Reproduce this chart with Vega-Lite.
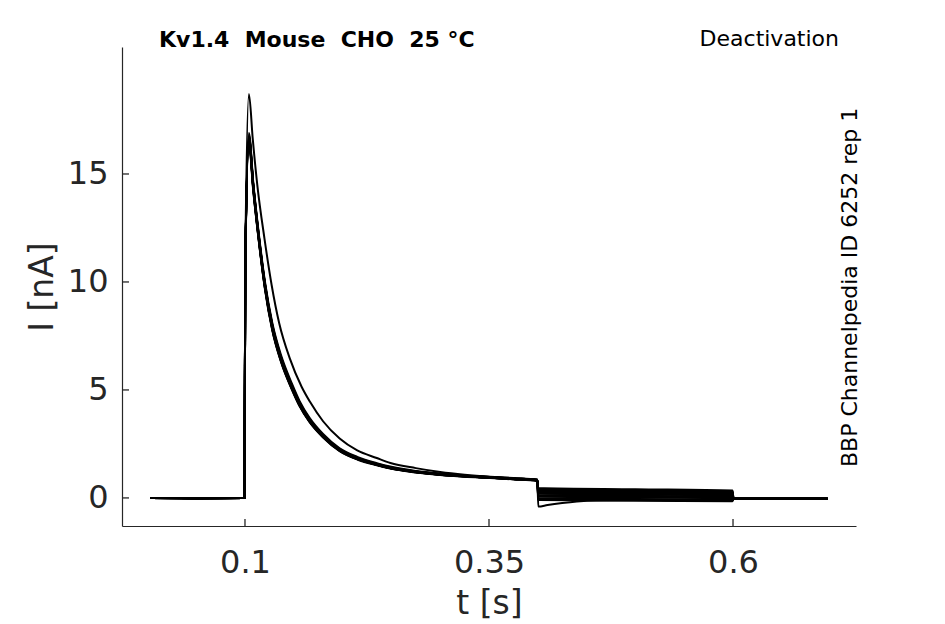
{
  "$schema": "https://vega.github.io/schema/vega-lite/v6.json",
  "width": 734,
  "height": 479,
  "autosize": {"type": "none"},
  "padding": {"left": 122, "top": 47, "right": 89, "bottom": 98},
  "background": "white",
  "config": {
    "view": {"stroke": null},
    "font": "DejaVu Sans",
    "axis": {
      "grid": false,
      "ticks": false,
      "tickSize": 0,
      "domainColor": "#262626",
      "domainWidth": 1.2,
      "labelColor": "#262626",
      "labelFont": "DejaVu Sans",
      "labelFontSize": 32,
      "titleColor": "#262626",
      "titleFont": "DejaVu Sans",
      "titleFontSize": 33,
      "titleFontWeight": "normal"
    }
  },
  "layer": [
    {
      "data": {
        "values": [
          {"s": "s1", "t": 0.003, "i": 0}, {"s": "s1", "t": 0.05, "i": -0.02}, {"s": "s1", "t": 0.0995, "i": 0},
          {"s": "s1", "t": 0.1003, "i": 11.0}, {"s": "s1", "t": 0.104, "i": 18.7}, {"s": "s1", "t": 0.108, "i": 16.6},
          {"s": "s1", "t": 0.1126, "i": 14.5}, {"s": "s1", "t": 0.12, "i": 12.0}, {"s": "s1", "t": 0.1273, "i": 9.86},
          {"s": "s1", "t": 0.135, "i": 8.1}, {"s": "s1", "t": 0.146, "i": 6.45}, {"s": "s1", "t": 0.158, "i": 5.15},
          {"s": "s1", "t": 0.1666, "i": 4.45}, {"s": "s1", "t": 0.18, "i": 3.55}, {"s": "s1", "t": 0.197, "i": 2.75},
          {"s": "s1", "t": 0.215, "i": 2.2}, {"s": "s1", "t": 0.235, "i": 1.85}, {"s": "s1", "t": 0.249, "i": 1.62},
          {"s": "s1", "t": 0.275, "i": 1.38}, {"s": "s1", "t": 0.3, "i": 1.2}, {"s": "s1", "t": 0.325, "i": 1.07},
          {"s": "s1", "t": 0.351, "i": 0.97}, {"s": "s1", "t": 0.375, "i": 0.9}, {"s": "s1", "t": 0.3995, "i": 0.84},
          {"s": "s1", "t": 0.4005, "i": 0.2}, {"s": "s1", "t": 0.5, "i": 0.155}, {"s": "s1", "t": 0.5995, "i": 0.11},
          {"s": "s1", "t": 0.6005, "i": -0.03}, {"s": "s1", "t": 0.697, "i": -0.04},

          {"s": "s2", "t": 0.003, "i": 0}, {"s": "s2", "t": 0.05, "i": -0.01}, {"s": "s2", "t": 0.0995, "i": 0},
          {"s": "s2", "t": 0.1003, "i": 10.9}, {"s": "s2", "t": 0.104, "i": 16.9}, {"s": "s2", "t": 0.1085, "i": 14.6},
          {"s": "s2", "t": 0.114, "i": 12.3}, {"s": "s2", "t": 0.1205, "i": 10.0}, {"s": "s2", "t": 0.128, "i": 8.1},
          {"s": "s2", "t": 0.137, "i": 6.6}, {"s": "s2", "t": 0.148, "i": 5.3}, {"s": "s2", "t": 0.156, "i": 4.48},
          {"s": "s2", "t": 0.166, "i": 3.72}, {"s": "s2", "t": 0.18, "i": 2.96}, {"s": "s2", "t": 0.197, "i": 2.3},
          {"s": "s2", "t": 0.215, "i": 1.9}, {"s": "s2", "t": 0.235, "i": 1.61}, {"s": "s2", "t": 0.25, "i": 1.44},
          {"s": "s2", "t": 0.275, "i": 1.25}, {"s": "s2", "t": 0.3, "i": 1.13}, {"s": "s2", "t": 0.325, "i": 1.04},
          {"s": "s2", "t": 0.351, "i": 0.98}, {"s": "s2", "t": 0.375, "i": 0.92}, {"s": "s2", "t": 0.3995, "i": 0.85},
          {"s": "s2", "t": 0.4005, "i": -0.4}, {"s": "s2", "t": 0.41, "i": -0.33}, {"s": "s2", "t": 0.425, "i": -0.24},
          {"s": "s2", "t": 0.44, "i": -0.17}, {"s": "s2", "t": 0.46, "i": -0.12}, {"s": "s2", "t": 0.5, "i": -0.1},
          {"s": "s2", "t": 0.5995, "i": -0.13}, {"s": "s2", "t": 0.6005, "i": -0.04}, {"s": "s2", "t": 0.697, "i": -0.04},

          {"s": "s3", "t": 0.003, "i": 0}, {"s": "s3", "t": 0.05, "i": -0.02}, {"s": "s3", "t": 0.0995, "i": 0},
          {"s": "s3", "t": 0.1003, "i": 10.8}, {"s": "s3", "t": 0.104, "i": 16.8}, {"s": "s3", "t": 0.1085, "i": 14.5},
          {"s": "s3", "t": 0.114, "i": 12.2}, {"s": "s3", "t": 0.1205, "i": 9.9}, {"s": "s3", "t": 0.128, "i": 8.0},
          {"s": "s3", "t": 0.137, "i": 6.5}, {"s": "s3", "t": 0.148, "i": 5.2}, {"s": "s3", "t": 0.156, "i": 4.4},
          {"s": "s3", "t": 0.166, "i": 3.65}, {"s": "s3", "t": 0.18, "i": 2.9}, {"s": "s3", "t": 0.197, "i": 2.25},
          {"s": "s3", "t": 0.215, "i": 1.85}, {"s": "s3", "t": 0.235, "i": 1.57}, {"s": "s3", "t": 0.25, "i": 1.4},
          {"s": "s3", "t": 0.275, "i": 1.22}, {"s": "s3", "t": 0.3, "i": 1.1}, {"s": "s3", "t": 0.325, "i": 1.02},
          {"s": "s3", "t": 0.351, "i": 0.96}, {"s": "s3", "t": 0.375, "i": 0.9}, {"s": "s3", "t": 0.3995, "i": 0.83},
          {"s": "s3", "t": 0.4005, "i": 0.46}, {"s": "s3", "t": 0.5, "i": 0.4}, {"s": "s3", "t": 0.5995, "i": 0.34},
          {"s": "s3", "t": 0.6005, "i": -0.02}, {"s": "s3", "t": 0.697, "i": -0.03},

          {"s": "s4", "t": 0.003, "i": 0}, {"s": "s4", "t": 0.05, "i": -0.02}, {"s": "s4", "t": 0.0995, "i": 0},
          {"s": "s4", "t": 0.1003, "i": 10.7}, {"s": "s4", "t": 0.104, "i": 16.7}, {"s": "s4", "t": 0.1085, "i": 14.45},
          {"s": "s4", "t": 0.114, "i": 12.15}, {"s": "s4", "t": 0.1205, "i": 9.85}, {"s": "s4", "t": 0.128, "i": 7.95},
          {"s": "s4", "t": 0.137, "i": 6.45}, {"s": "s4", "t": 0.148, "i": 5.16}, {"s": "s4", "t": 0.156, "i": 4.36},
          {"s": "s4", "t": 0.166, "i": 3.62}, {"s": "s4", "t": 0.18, "i": 2.88}, {"s": "s4", "t": 0.197, "i": 2.23},
          {"s": "s4", "t": 0.215, "i": 1.84}, {"s": "s4", "t": 0.235, "i": 1.56}, {"s": "s4", "t": 0.25, "i": 1.39},
          {"s": "s4", "t": 0.275, "i": 1.21}, {"s": "s4", "t": 0.3, "i": 1.09}, {"s": "s4", "t": 0.325, "i": 1.01},
          {"s": "s4", "t": 0.351, "i": 0.95}, {"s": "s4", "t": 0.375, "i": 0.89}, {"s": "s4", "t": 0.3995, "i": 0.82},
          {"s": "s4", "t": 0.4005, "i": 0.38}, {"s": "s4", "t": 0.5, "i": 0.325}, {"s": "s4", "t": 0.5995, "i": 0.27},
          {"s": "s4", "t": 0.6005, "i": -0.03}, {"s": "s4", "t": 0.697, "i": -0.04},

          {"s": "s5", "t": 0.003, "i": 0}, {"s": "s5", "t": 0.05, "i": -0.01}, {"s": "s5", "t": 0.0995, "i": 0},
          {"s": "s5", "t": 0.1003, "i": 10.8}, {"s": "s5", "t": 0.104, "i": 16.75}, {"s": "s5", "t": 0.1085, "i": 14.52},
          {"s": "s5", "t": 0.114, "i": 12.22}, {"s": "s5", "t": 0.1205, "i": 9.92}, {"s": "s5", "t": 0.128, "i": 8.02},
          {"s": "s5", "t": 0.137, "i": 6.52}, {"s": "s5", "t": 0.148, "i": 5.22}, {"s": "s5", "t": 0.156, "i": 4.42},
          {"s": "s5", "t": 0.166, "i": 3.66}, {"s": "s5", "t": 0.18, "i": 2.91}, {"s": "s5", "t": 0.197, "i": 2.26},
          {"s": "s5", "t": 0.215, "i": 1.86}, {"s": "s5", "t": 0.235, "i": 1.58}, {"s": "s5", "t": 0.25, "i": 1.41},
          {"s": "s5", "t": 0.275, "i": 1.23}, {"s": "s5", "t": 0.3, "i": 1.11}, {"s": "s5", "t": 0.325, "i": 1.03},
          {"s": "s5", "t": 0.351, "i": 0.97}, {"s": "s5", "t": 0.375, "i": 0.91}, {"s": "s5", "t": 0.3995, "i": 0.84},
          {"s": "s5", "t": 0.4005, "i": 0.3}, {"s": "s5", "t": 0.5, "i": 0.25}, {"s": "s5", "t": 0.5995, "i": 0.2},
          {"s": "s5", "t": 0.6005, "i": -0.03}, {"s": "s5", "t": 0.697, "i": -0.03},

          {"s": "s6", "t": 0.003, "i": 0}, {"s": "s6", "t": 0.05, "i": -0.02}, {"s": "s6", "t": 0.0995, "i": 0},
          {"s": "s6", "t": 0.1003, "i": 10.6}, {"s": "s6", "t": 0.104, "i": 16.6}, {"s": "s6", "t": 0.1085, "i": 14.35},
          {"s": "s6", "t": 0.114, "i": 12.05}, {"s": "s6", "t": 0.1205, "i": 9.75}, {"s": "s6", "t": 0.128, "i": 7.85},
          {"s": "s6", "t": 0.137, "i": 6.38}, {"s": "s6", "t": 0.148, "i": 5.1}, {"s": "s6", "t": 0.156, "i": 4.31},
          {"s": "s6", "t": 0.166, "i": 3.57}, {"s": "s6", "t": 0.18, "i": 2.84}, {"s": "s6", "t": 0.197, "i": 2.2},
          {"s": "s6", "t": 0.215, "i": 1.81}, {"s": "s6", "t": 0.235, "i": 1.54}, {"s": "s6", "t": 0.25, "i": 1.37},
          {"s": "s6", "t": 0.275, "i": 1.2}, {"s": "s6", "t": 0.3, "i": 1.08}, {"s": "s6", "t": 0.325, "i": 1.0},
          {"s": "s6", "t": 0.351, "i": 0.94}, {"s": "s6", "t": 0.375, "i": 0.88}, {"s": "s6", "t": 0.3995, "i": 0.81},
          {"s": "s6", "t": 0.4005, "i": 0.22}, {"s": "s6", "t": 0.5, "i": 0.175}, {"s": "s6", "t": 0.5995, "i": 0.13},
          {"s": "s6", "t": 0.6005, "i": -0.04}, {"s": "s6", "t": 0.697, "i": -0.04},

          {"s": "s7", "t": 0.003, "i": 0}, {"s": "s7", "t": 0.05, "i": -0.02}, {"s": "s7", "t": 0.0995, "i": 0},
          {"s": "s7", "t": 0.1003, "i": 10.9}, {"s": "s7", "t": 0.104, "i": 16.7}, {"s": "s7", "t": 0.1085, "i": 14.45},
          {"s": "s7", "t": 0.114, "i": 12.15}, {"s": "s7", "t": 0.1205, "i": 9.85}, {"s": "s7", "t": 0.128, "i": 7.95},
          {"s": "s7", "t": 0.137, "i": 6.45}, {"s": "s7", "t": 0.148, "i": 5.15}, {"s": "s7", "t": 0.156, "i": 4.35},
          {"s": "s7", "t": 0.166, "i": 3.61}, {"s": "s7", "t": 0.18, "i": 2.87}, {"s": "s7", "t": 0.197, "i": 2.23},
          {"s": "s7", "t": 0.215, "i": 1.83}, {"s": "s7", "t": 0.235, "i": 1.55}, {"s": "s7", "t": 0.25, "i": 1.39},
          {"s": "s7", "t": 0.275, "i": 1.21}, {"s": "s7", "t": 0.3, "i": 1.09}, {"s": "s7", "t": 0.325, "i": 1.01},
          {"s": "s7", "t": 0.351, "i": 0.95}, {"s": "s7", "t": 0.375, "i": 0.89}, {"s": "s7", "t": 0.3995, "i": 0.82},
          {"s": "s7", "t": 0.4005, "i": 0.14}, {"s": "s7", "t": 0.5, "i": 0.1}, {"s": "s7", "t": 0.5995, "i": 0.06},
          {"s": "s7", "t": 0.6005, "i": -0.03}, {"s": "s7", "t": 0.697, "i": -0.04},

          {"s": "s8", "t": 0.003, "i": 0}, {"s": "s8", "t": 0.05, "i": -0.01}, {"s": "s8", "t": 0.0995, "i": 0},
          {"s": "s8", "t": 0.1003, "i": 10.7}, {"s": "s8", "t": 0.104, "i": 16.5}, {"s": "s8", "t": 0.1085, "i": 14.3},
          {"s": "s8", "t": 0.114, "i": 12.0}, {"s": "s8", "t": 0.1205, "i": 9.7}, {"s": "s8", "t": 0.128, "i": 7.8},
          {"s": "s8", "t": 0.137, "i": 6.32}, {"s": "s8", "t": 0.148, "i": 5.05}, {"s": "s8", "t": 0.156, "i": 4.27},
          {"s": "s8", "t": 0.166, "i": 3.54}, {"s": "s8", "t": 0.18, "i": 2.82}, {"s": "s8", "t": 0.197, "i": 2.18},
          {"s": "s8", "t": 0.215, "i": 1.8}, {"s": "s8", "t": 0.235, "i": 1.53}, {"s": "s8", "t": 0.25, "i": 1.36},
          {"s": "s8", "t": 0.275, "i": 1.19}, {"s": "s8", "t": 0.3, "i": 1.07}, {"s": "s8", "t": 0.325, "i": 0.99},
          {"s": "s8", "t": 0.351, "i": 0.93}, {"s": "s8", "t": 0.375, "i": 0.87}, {"s": "s8", "t": 0.3995, "i": 0.8},
          {"s": "s8", "t": 0.4005, "i": 0.06}, {"s": "s8", "t": 0.5, "i": 0.025}, {"s": "s8", "t": 0.5995, "i": -0.01},
          {"s": "s8", "t": 0.6005, "i": -0.04}, {"s": "s8", "t": 0.697, "i": -0.05},

          {"s": "s9", "t": 0.003, "i": 0}, {"s": "s9", "t": 0.05, "i": -0.02}, {"s": "s9", "t": 0.0995, "i": 0},
          {"s": "s9", "t": 0.1003, "i": 10.8}, {"s": "s9", "t": 0.104, "i": 16.6}, {"s": "s9", "t": 0.1085, "i": 14.4},
          {"s": "s9", "t": 0.114, "i": 12.1}, {"s": "s9", "t": 0.1205, "i": 9.8}, {"s": "s9", "t": 0.128, "i": 7.9},
          {"s": "s9", "t": 0.137, "i": 6.4}, {"s": "s9", "t": 0.148, "i": 5.12}, {"s": "s9", "t": 0.156, "i": 4.33},
          {"s": "s9", "t": 0.166, "i": 3.59}, {"s": "s9", "t": 0.18, "i": 2.85}, {"s": "s9", "t": 0.197, "i": 2.21},
          {"s": "s9", "t": 0.215, "i": 1.82}, {"s": "s9", "t": 0.235, "i": 1.54}, {"s": "s9", "t": 0.25, "i": 1.38},
          {"s": "s9", "t": 0.275, "i": 1.2}, {"s": "s9", "t": 0.3, "i": 1.08}, {"s": "s9", "t": 0.325, "i": 1.0},
          {"s": "s9", "t": 0.351, "i": 0.94}, {"s": "s9", "t": 0.375, "i": 0.88}, {"s": "s9", "t": 0.3995, "i": 0.81},
          {"s": "s9", "t": 0.4005, "i": -0.02}, {"s": "s9", "t": 0.5, "i": -0.05}, {"s": "s9", "t": 0.5995, "i": -0.08},
          {"s": "s9", "t": 0.6005, "i": -0.04}, {"s": "s9", "t": 0.697, "i": -0.04},

          {"s": "s10", "t": 0.003, "i": 0}, {"s": "s10", "t": 0.05, "i": -0.02}, {"s": "s10", "t": 0.0995, "i": 0},
          {"s": "s10", "t": 0.1003, "i": 10.6}, {"s": "s10", "t": 0.104, "i": 16.4}, {"s": "s10", "t": 0.1085, "i": 14.2},
          {"s": "s10", "t": 0.114, "i": 11.95}, {"s": "s10", "t": 0.1205, "i": 9.65}, {"s": "s10", "t": 0.128, "i": 7.75},
          {"s": "s10", "t": 0.137, "i": 6.28}, {"s": "s10", "t": 0.148, "i": 5.02}, {"s": "s10", "t": 0.156, "i": 4.24},
          {"s": "s10", "t": 0.166, "i": 3.52}, {"s": "s10", "t": 0.18, "i": 2.8}, {"s": "s10", "t": 0.197, "i": 2.17},
          {"s": "s10", "t": 0.215, "i": 1.78}, {"s": "s10", "t": 0.235, "i": 1.51}, {"s": "s10", "t": 0.25, "i": 1.35},
          {"s": "s10", "t": 0.275, "i": 1.18}, {"s": "s10", "t": 0.3, "i": 1.06}, {"s": "s10", "t": 0.325, "i": 0.98},
          {"s": "s10", "t": 0.351, "i": 0.92}, {"s": "s10", "t": 0.375, "i": 0.86}, {"s": "s10", "t": 0.3995, "i": 0.79},
          {"s": "s10", "t": 0.4005, "i": -0.1}, {"s": "s10", "t": 0.5, "i": -0.125}, {"s": "s10", "t": 0.5995, "i": -0.15},
          {"s": "s10", "t": 0.6005, "i": -0.05}, {"s": "s10", "t": 0.697, "i": -0.05},

          {"s": "s11", "t": 0.003, "i": 0}, {"s": "s11", "t": 0.05, "i": -0.01}, {"s": "s11", "t": 0.0995, "i": 0},
          {"s": "s11", "t": 0.1003, "i": 10.7}, {"s": "s11", "t": 0.104, "i": 16.65}, {"s": "s11", "t": 0.1085, "i": 14.4},
          {"s": "s11", "t": 0.114, "i": 12.1}, {"s": "s11", "t": 0.1205, "i": 9.82}, {"s": "s11", "t": 0.128, "i": 7.92},
          {"s": "s11", "t": 0.137, "i": 6.43}, {"s": "s11", "t": 0.148, "i": 5.14}, {"s": "s11", "t": 0.156, "i": 4.34},
          {"s": "s11", "t": 0.166, "i": 3.6}, {"s": "s11", "t": 0.18, "i": 2.86}, {"s": "s11", "t": 0.197, "i": 2.22},
          {"s": "s11", "t": 0.215, "i": 1.83}, {"s": "s11", "t": 0.235, "i": 1.55}, {"s": "s11", "t": 0.25, "i": 1.38},
          {"s": "s11", "t": 0.275, "i": 1.21}, {"s": "s11", "t": 0.3, "i": 1.09}, {"s": "s11", "t": 0.325, "i": 1.01},
          {"s": "s11", "t": 0.351, "i": 0.95}, {"s": "s11", "t": 0.375, "i": 0.89}, {"s": "s11", "t": 0.3995, "i": 0.82},
          {"s": "s11", "t": 0.4005, "i": 0.42}, {"s": "s11", "t": 0.5, "i": 0.36}, {"s": "s11", "t": 0.5995, "i": 0.305},
          {"s": "s11", "t": 0.6005, "i": -0.03}, {"s": "s11", "t": 0.697, "i": -0.04},

          {"s": "s12", "t": 0.003, "i": 0}, {"s": "s12", "t": 0.05, "i": -0.02}, {"s": "s12", "t": 0.0995, "i": 0},
          {"s": "s12", "t": 0.1003, "i": 10.8}, {"s": "s12", "t": 0.104, "i": 16.55}, {"s": "s12", "t": 0.1085, "i": 14.35},
          {"s": "s12", "t": 0.114, "i": 12.05}, {"s": "s12", "t": 0.1205, "i": 9.78}, {"s": "s12", "t": 0.128, "i": 7.88},
          {"s": "s12", "t": 0.137, "i": 6.4}, {"s": "s12", "t": 0.148, "i": 5.11}, {"s": "s12", "t": 0.156, "i": 4.32},
          {"s": "s12", "t": 0.166, "i": 3.58}, {"s": "s12", "t": 0.18, "i": 2.85}, {"s": "s12", "t": 0.197, "i": 2.21},
          {"s": "s12", "t": 0.215, "i": 1.82}, {"s": "s12", "t": 0.235, "i": 1.54}, {"s": "s12", "t": 0.25, "i": 1.37},
          {"s": "s12", "t": 0.275, "i": 1.2}, {"s": "s12", "t": 0.3, "i": 1.08}, {"s": "s12", "t": 0.325, "i": 1.0},
          {"s": "s12", "t": 0.351, "i": 0.94}, {"s": "s12", "t": 0.375, "i": 0.88}, {"s": "s12", "t": 0.3995, "i": 0.81},
          {"s": "s12", "t": 0.4005, "i": 0.34}, {"s": "s12", "t": 0.5, "i": 0.285}, {"s": "s12", "t": 0.5995, "i": 0.235},
          {"s": "s12", "t": 0.6005, "i": -0.03}, {"s": "s12", "t": 0.697, "i": -0.03},

          {"s": "s13", "t": 0.003, "i": 0}, {"s": "s13", "t": 0.05, "i": -0.02}, {"s": "s13", "t": 0.0995, "i": 0},
          {"s": "s13", "t": 0.1003, "i": 10.7}, {"s": "s13", "t": 0.104, "i": 16.7}, {"s": "s13", "t": 0.1085, "i": 14.48},
          {"s": "s13", "t": 0.114, "i": 12.18}, {"s": "s13", "t": 0.1205, "i": 9.88}, {"s": "s13", "t": 0.128, "i": 7.98},
          {"s": "s13", "t": 0.137, "i": 6.48}, {"s": "s13", "t": 0.148, "i": 5.18}, {"s": "s13", "t": 0.156, "i": 4.38},
          {"s": "s13", "t": 0.166, "i": 3.63}, {"s": "s13", "t": 0.18, "i": 2.89}, {"s": "s13", "t": 0.197, "i": 2.24},
          {"s": "s13", "t": 0.215, "i": 1.84}, {"s": "s13", "t": 0.235, "i": 1.56}, {"s": "s13", "t": 0.25, "i": 1.4},
          {"s": "s13", "t": 0.275, "i": 1.22}, {"s": "s13", "t": 0.3, "i": 1.1}, {"s": "s13", "t": 0.325, "i": 1.02},
          {"s": "s13", "t": 0.351, "i": 0.96}, {"s": "s13", "t": 0.375, "i": 0.9}, {"s": "s13", "t": 0.3995, "i": 0.83},
          {"s": "s13", "t": 0.4005, "i": 0.26}, {"s": "s13", "t": 0.5, "i": 0.21}, {"s": "s13", "t": 0.5995, "i": 0.165},
          {"s": "s13", "t": 0.6005, "i": -0.04}, {"s": "s13", "t": 0.697, "i": -0.04},

          {"s": "s14", "t": 0.003, "i": 0}, {"s": "s14", "t": 0.05, "i": -0.01}, {"s": "s14", "t": 0.0995, "i": 0},
          {"s": "s14", "t": 0.1003, "i": 10.6}, {"s": "s14", "t": 0.104, "i": 16.45}, {"s": "s14", "t": 0.1085, "i": 14.25},
          {"s": "s14", "t": 0.114, "i": 11.98}, {"s": "s14", "t": 0.1205, "i": 9.7}, {"s": "s14", "t": 0.128, "i": 7.8},
          {"s": "s14", "t": 0.137, "i": 6.33}, {"s": "s14", "t": 0.148, "i": 5.06}, {"s": "s14", "t": 0.156, "i": 4.28},
          {"s": "s14", "t": 0.166, "i": 3.55}, {"s": "s14", "t": 0.18, "i": 2.83}, {"s": "s14", "t": 0.197, "i": 2.19},
          {"s": "s14", "t": 0.215, "i": 1.8}, {"s": "s14", "t": 0.235, "i": 1.53}, {"s": "s14", "t": 0.25, "i": 1.36},
          {"s": "s14", "t": 0.275, "i": 1.19}, {"s": "s14", "t": 0.3, "i": 1.07}, {"s": "s14", "t": 0.325, "i": 0.99},
          {"s": "s14", "t": 0.351, "i": 0.93}, {"s": "s14", "t": 0.375, "i": 0.87}, {"s": "s14", "t": 0.3995, "i": 0.8},
          {"s": "s14", "t": 0.4005, "i": 0.1}, {"s": "s14", "t": 0.5, "i": 0.06}, {"s": "s14", "t": 0.5995, "i": 0.025},
          {"s": "s14", "t": 0.6005, "i": -0.04}, {"s": "s14", "t": 0.697, "i": -0.05},

          {"s": "s15", "t": 0.003, "i": 0}, {"s": "s15", "t": 0.05, "i": -0.02}, {"s": "s15", "t": 0.0995, "i": 0},
          {"s": "s15", "t": 0.1003, "i": 10.8}, {"s": "s15", "t": 0.104, "i": 16.6}, {"s": "s15", "t": 0.1085, "i": 14.38},
          {"s": "s15", "t": 0.114, "i": 12.08}, {"s": "s15", "t": 0.1205, "i": 9.8}, {"s": "s15", "t": 0.128, "i": 7.9},
          {"s": "s15", "t": 0.137, "i": 6.42}, {"s": "s15", "t": 0.148, "i": 5.13}, {"s": "s15", "t": 0.156, "i": 4.33},
          {"s": "s15", "t": 0.166, "i": 3.59}, {"s": "s15", "t": 0.18, "i": 2.86}, {"s": "s15", "t": 0.197, "i": 2.21},
          {"s": "s15", "t": 0.215, "i": 1.82}, {"s": "s15", "t": 0.235, "i": 1.54}, {"s": "s15", "t": 0.25, "i": 1.38},
          {"s": "s15", "t": 0.275, "i": 1.2}, {"s": "s15", "t": 0.3, "i": 1.08}, {"s": "s15", "t": 0.325, "i": 1.0},
          {"s": "s15", "t": 0.351, "i": 0.94}, {"s": "s15", "t": 0.375, "i": 0.88}, {"s": "s15", "t": 0.3995, "i": 0.81},
          {"s": "s15", "t": 0.4005, "i": -0.06}, {"s": "s15", "t": 0.5, "i": -0.09}, {"s": "s15", "t": 0.5995, "i": -0.115},
          {"s": "s15", "t": 0.6005, "i": -0.04}, {"s": "s15", "t": 0.697, "i": -0.05}
        ]
      },
      "mark": {"type": "line", "color": "black", "strokeWidth": 2, "interpolate": "monotone"},
      "encoding": {
        "x": {
          "field": "t",
          "type": "quantitative",
          "title": "t [s]",
          "scale": {"domain": [-0.026, 0.726], "nice": false, "zero": false},
          "axis": {"values": [0.1, 0.35, 0.6], "format": "~g", "labelPadding": 21, "titlePadding": 9}
        },
        "y": {
          "field": "i",
          "type": "quantitative",
          "title": "I [nA]",
          "scale": {"domain": [-1.3, 20.88], "nice": false, "zero": false},
          "axis": {"values": [0, 5, 10, 15], "format": "d", "labelPadding": 14, "titlePadding": 8}
        },
        "detail": {"field": "s", "type": "nominal"}
      }
    },
    {
      "data": {"values": [{"tick": 0.1}, {"tick": 0.35}, {"tick": 0.6}]},
      "mark": {"type": "rule", "color": "#262626", "strokeWidth": 1.3},
      "encoding": {
        "x": {"field": "tick", "type": "quantitative", "title": "t [s]"},
        "y": {"datum": -1.3, "type": "quantitative"},
        "y2": {"datum": -0.976}
      }
    },
    {
      "data": {"values": [{"tick": 0}, {"tick": 5}, {"tick": 10}, {"tick": 15}]},
      "mark": {"type": "rule", "color": "#262626", "strokeWidth": 1.3},
      "encoding": {
        "y": {"field": "tick", "type": "quantitative", "title": "I [nA]"},
        "x": {"datum": -0.026, "type": "quantitative"},
        "x2": {"datum": -0.0188}
      }
    },
    {
      "data": {"values": [{"label": "Kv1.4\u00a0 Mouse\u00a0 CHO\u00a0 25 °C"}]},
      "mark": {"type": "text", "align": "left", "baseline": "middle", "fontSize": 22, "fontWeight": "bold", "color": "black"},
      "encoding": {
        "x": {"datum": 0.0119, "type": "quantitative"},
        "y": {"datum": 21.2, "type": "quantitative"},
        "text": {"field": "label"}
      }
    },
    {
      "data": {"values": [{"label": "Deactivation"}]},
      "mark": {"type": "text", "align": "right", "baseline": "middle", "fontSize": 22, "color": "black"},
      "encoding": {
        "x": {"datum": 0.7086, "type": "quantitative"},
        "y": {"datum": 21.25, "type": "quantitative"},
        "text": {"field": "label"}
      }
    },
    {
      "data": {"values": [{"label": "BBP Channelpedia ID 6252 rep 1"}]},
      "mark": {"type": "text", "align": "center", "baseline": "middle", "angle": 270, "fontSize": 22, "color": "black"},
      "encoding": {
        "x": {"datum": 0.7199, "type": "quantitative"},
        "y": {"datum": 9.75, "type": "quantitative"},
        "text": {"field": "label"}
      }
    }
  ]
}
